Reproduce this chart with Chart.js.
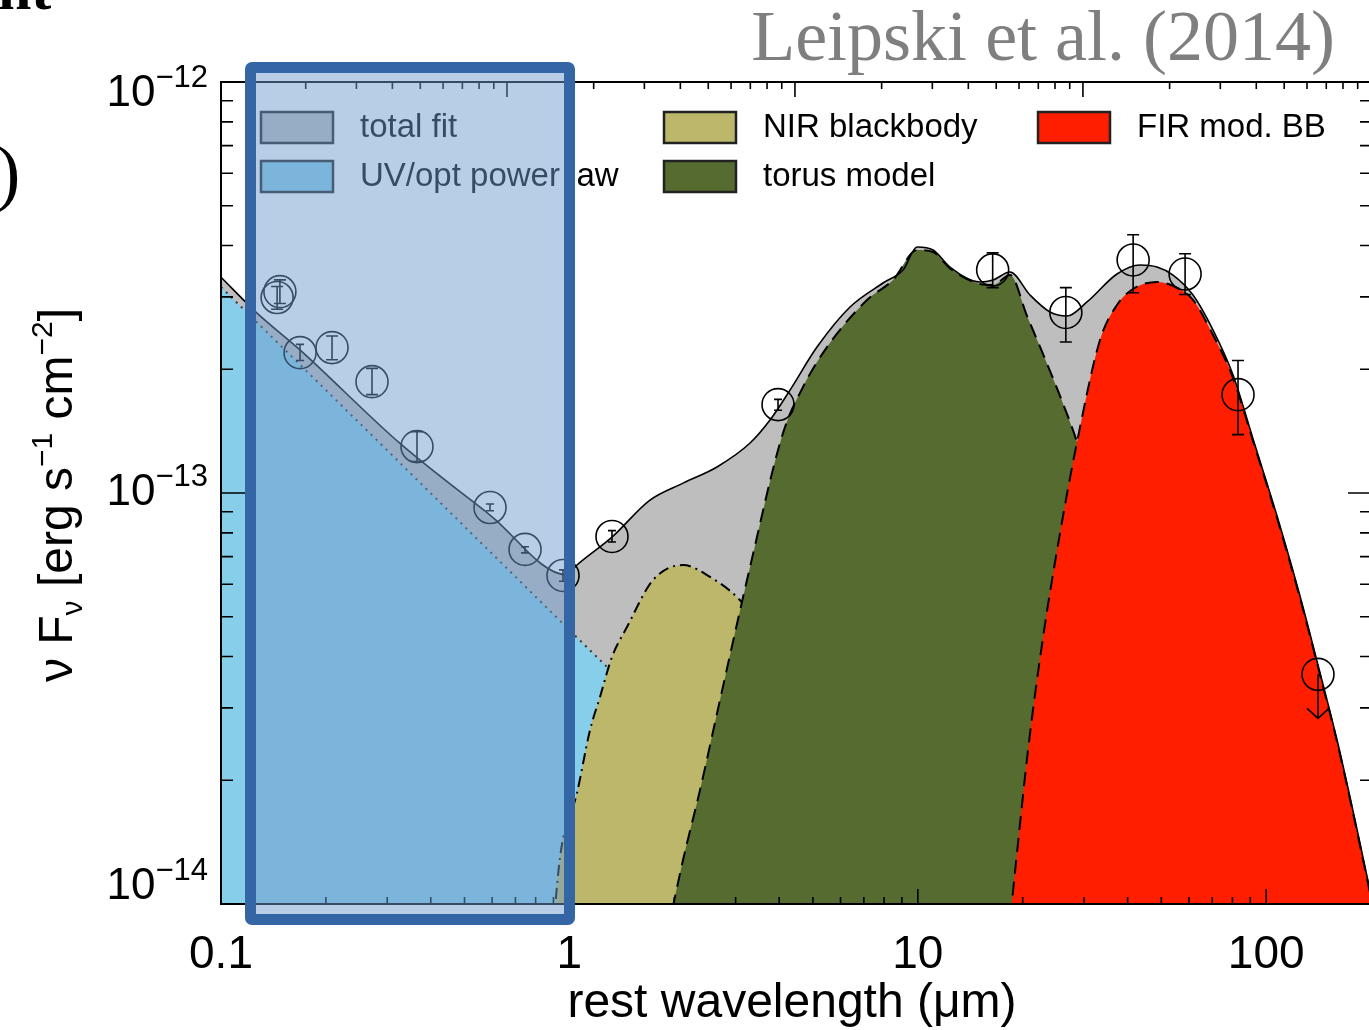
<!DOCTYPE html>
<html>
<head>
<meta charset="utf-8">
<script src="https://cdn.jsdelivr.net/npm/chart.js@4.4.1/dist/chart.umd.min.js"></script>
<style>
  html, body { margin: 0; padding: 0; background: #fff; overflow: hidden; }
  #wrap { position: absolute; left: 0; top: 0; width: 1400px; height: 1030px; }
  #highlight {
    position: absolute; left: 245px; top: 62px; width: 330px; height: 863px;
    box-sizing: border-box; border: 11px solid #3466a6; border-radius: 7px;
    background: rgba(110, 155, 204, 0.49);
  }
</style>
</head>
<body>
<div id="wrap"><canvas id="sed"></canvas></div>
<div id="highlight"></div>
<script>
// --- data (rest wavelength in micron, nuFnu in erg/s/cm2) ---
const totalWave = [0.1, 0.1269, 0.1685, 0.3265, 0.5917, 0.984, 1.051, 1.325, 1.703, 2.119, 2.652, 3.300, 3.765, 4.297, 5.136, 6.389, 7.947, 9.07, 9.95, 11.06, 12.37, 15.08, 16.44, 18.39, 20.99, 23.95, 26.81, 30.59, 37.30, 43.42, 48.59, 54.01, 61.65, 70.37, 80.32, 91.66, 107.4, 125.0, 142.7, 159.7, 179.8, 201.2];
const totalFlux = [3.35e-13, 2.74e-13, 2.23e-13, 1.32e-13, 8.84e-14, 6.32e-14, 6.68e-14, 7.81e-14, 9.61e-14, 1.057e-13, 1.157e-13, 1.323e-13, 1.505e-13, 1.78e-13, 2.265e-13, 2.835e-13, 3.243e-13, 3.487e-13, 3.967e-13, 3.901e-13, 3.546e-13, 3.262e-13, 3.298e-13, 3.449e-13, 3.032e-13, 2.757e-13, 2.696e-13, 2.916e-13, 3.41e-13, 3.586e-13, 3.546e-13, 3.391e-13, 3.032e-13, 2.492e-13, 1.937e-13, 1.353e-13, 8.79e-14, 5.615e-14, 3.648e-14, 2.506e-14, 1.601e-14, 1.023e-14];

const uvWave = [0.1, 0.3, 1.0, 1.3, 3.0, 5.0];
const uvFlux = [3.17e-13, 1.27e-13, 4.64e-14, 3.73e-14, 1.86e-14, 1.21e-14];

const nirWave = [0.88, 0.94, 1.051, 1.146, 1.224, 1.325, 1.463, 1.738, 2.119, 2.532, 3.027, 3.525, 4.59, 6.39, 8.89];
const nirFlux = [7e-15, 1.30e-14, 1.86e-14, 2.65e-14, 3.19e-14, 3.99e-14, 4.72e-14, 6.14e-14, 6.68e-14, 6.25e-14, 5.58e-14, 4.77e-14, 3.14e-14, 1.79e-14, 1.02e-14];

const torusWave = [1.919, 2.119, 2.371, 2.706, 3.300, 4.104, 4.683, 5.488, 7.148, 8.49, 9.95, 11.06, 12.37, 15.08, 16.44, 18.39, 20.58, 22.87, 25.6, 28.64, 33.34, 40.64, 49.56, 60.4];
const torusFlux = [8.65e-15, 1.28e-14, 1.894e-14, 3.14e-14, 6.61e-14, 1.40e-13, 1.811e-13, 2.265e-13, 2.948e-13, 3.298e-13, 3.90e-13, 3.858e-13, 3.52e-13, 3.226e-13, 3.206e-13, 3.391e-13, 2.696e-13, 2.179e-13, 1.722e-13, 1.33e-13, 8.59e-14, 4.39e-14, 2.0e-14, 8.6e-15];

const firWave = [18.16, 19.0, 20.72, 22.87, 25.6, 28.64, 33.34, 37.30, 41.47, 48.59, 54.01, 61.65, 70.37, 80.32, 91.66, 107.4, 125.0, 142.7, 159.7, 179.8, 201.2];
const firFlux = [8.2e-15, 1.19e-14, 2.37e-14, 4.44e-14, 7.99e-14, 1.33e-13, 2.357e-13, 2.866e-13, 3.136e-13, 3.262e-13, 3.19e-13, 2.95e-13, 2.423e-13, 1.905e-13, 1.338e-13, 8.69e-14, 5.55e-14, 3.61e-14, 2.48e-14, 1.583e-14, 1.01e-14];

// photometry with error bars (last one is an upper limit)
const photWave  = [0.1476, 0.1449, 0.1686, 0.2083, 0.2713, 0.3652, 0.5917, 0.7459, 0.9586, 1.325, 3.97, 16.4, 26.6, 41.5, 58.5, 83.0, 140.8];
const photFlux  = [3.09e-13, 2.99e-13, 2.195e-13, 2.258e-13, 1.866e-13, 1.297e-13, 9.22e-14, 7.29e-14, 6.30e-14, 7.84e-14, 1.641e-13, 3.49e-13, 2.75e-13, 3.69e-13, 3.41e-13, 1.735e-13, 3.62e-14];
const photErrHi = [3.30e-13, 3.18e-13, 2.30e-13, 2.41e-13, 2.01e-13, 1.41e-13, 9.4e-14, 7.4e-14, 6.5e-14, 8.1e-14, 1.69e-13, 3.84e-13, 3.16e-13, 4.25e-13, 3.82e-13, 2.10e-13, 3.62e-14];
const photErrLo = [2.89e-13, 2.80e-13, 2.10e-13, 2.11e-13, 1.735e-13, 1.193e-13, 9.05e-14, 7.15e-14, 6.1e-14, 7.6e-14, 1.59e-13, 3.16e-13, 2.33e-13, 3.07e-13, 3.04e-13, 1.387e-13, 2.83e-14];
const photUpperLimit = [0, 0, 0, 0, 0, 0, 0, 0, 0, 0, 0, 0, 0, 0, 0, 0, 1];

// axes
const xMajor = [0.1, 1, 10, 100];
const xMajorLabels = ['0.1', '1', '10', '100'];
const topMajor = [1, 10, 100, 1000];
const yMajor = [1e-12, 1e-13, 1e-14];
const yMajorExp = ['\u221212', '\u221213', '\u221214'];

const legendLabels = ['total fit', 'UV/opt power law', 'NIR blackbody', 'torus model', 'FIR mod. BB'];
const legendColors = ['#bebebe', '#87ceeb', '#bdb76b', '#556b2f', '#ff1e00'];

const SANS = '"Liberation Sans", Arial, Helvetica, sans-serif';
const SERIF = '"Liberation Serif", "Times New Roman", serif';

const pts = (xs, ys) => xs.map((x, i) => ({ x: x, y: ys[i] }));

function minorTicks(min, max) {
    const out = [];
    for (let e = Math.floor(Math.log10(min)); e <= Math.ceil(Math.log10(max)); e++) {
        for (let k = 2; k <= 9; k++) {
            const v = k * Math.pow(10, e);
            if (v > min * 1.0001 && v < max * 0.9999) out.push(v);
        }
    }
    return out;
}

function richWidth(ctx, parts) {
    let w = 0;
    parts.forEach(p => { ctx.font = p.size + 'px ' + SANS; w += ctx.measureText(p.t).width; });
    return w;
}
function drawRich(ctx, parts, x, y) {
    let cx = x;
    parts.forEach(p => {
        ctx.font = p.size + 'px ' + SANS;
        ctx.fillText(p.t, cx, y + (p.dy || 0));
        cx += ctx.measureText(p.t).width;
    });
}

// error bars + upper limit arrows
const errorBars = {
    id: 'errorBars',
    afterDatasetsDraw(chart) {
        const ctx = chart.ctx, xs = chart.scales.x, ys = chart.scales.y;
        ctx.save();
        ctx.strokeStyle = '#000';
        ctx.lineWidth = 1.6;
        photWave.forEach((w, i) => {
            const px = xs.getPixelForValue(w);
            if (photUpperLimit[i]) {
                const y0 = ys.getPixelForValue(photFlux[i]);
                const y1 = ys.getPixelForValue(photErrLo[i]);
                ctx.beginPath();
                ctx.moveTo(px, y0); ctx.lineTo(px, y1);
                ctx.moveTo(px - 11, y1 - 10); ctx.lineTo(px, y1); ctx.lineTo(px + 11, y1 - 10);
                ctx.stroke();
                return;
            }
            const yh = ys.getPixelForValue(photErrHi[i]);
            const yl = ys.getPixelForValue(photErrLo[i]);
            const cap = (yl - yh) > 20 ? 6 : 4;
            ctx.beginPath();
            ctx.moveTo(px, yh); ctx.lineTo(px, yl);
            ctx.moveTo(px - cap, yh); ctx.lineTo(px + cap, yh);
            ctx.moveTo(px - cap, yl); ctx.lineTo(px + cap, yl);
            ctx.stroke();
        });
        ctx.restore();
    }
};

// IDL style frame: inward ticks on all four sides, labels, legend, titles
const idlFrame = {
    id: 'idlFrame',
    afterDraw(chart) {
        const ctx = chart.ctx, a = chart.chartArea;
        const xs = chart.scales.x, x2 = chart.scales.x2, ys = chart.scales.y;
        ctx.save();
        ctx.strokeStyle = '#000';
        ctx.fillStyle = '#000';

        // ticks
        ctx.lineWidth = 1.6;
        ctx.beginPath();
        const bx = (v, len) => { const p = xs.getPixelForValue(v); ctx.moveTo(p, a.bottom); ctx.lineTo(p, a.bottom - len); };
        const tx = (v, len) => { const p = x2.getPixelForValue(v); ctx.moveTo(p, a.top); ctx.lineTo(p, a.top + len); };
        const ly = (v, len) => {
            const p = ys.getPixelForValue(v);
            ctx.moveTo(a.left, p); ctx.lineTo(a.left + len, p);
            ctx.moveTo(a.right, p); ctx.lineTo(a.right - len, p);
        };
        xMajor.forEach(v => bx(v, 15));
        minorTicks(xs.min, xs.max).forEach(v => bx(v, 7));
        topMajor.forEach(v => { if (v >= x2.min && v <= x2.max) tx(v, 15); });
        minorTicks(x2.min, x2.max).forEach(v => tx(v, 7));
        yMajor.forEach(v => ly(v, 24));
        minorTicks(ys.min, ys.max).forEach(v => ly(v, 12));
        ctx.stroke();

        ctx.lineWidth = 2;
        ctx.strokeRect(a.left, a.top, a.right - a.left, a.bottom - a.top);

        // x tick labels
        ctx.font = '46px ' + SANS;
        ctx.textAlign = 'center';
        ctx.textBaseline = 'alphabetic';
        xMajor.forEach((v, i) => ctx.fillText(xMajorLabels[i], xs.getPixelForValue(v), 968));

        // y tick labels 10^n
        ctx.textAlign = 'left';
        ctx.textBaseline = 'middle';
        yMajor.forEach((v, i) => {
            const p = ys.getPixelForValue(v);
            const cy = Math.min(Math.max(p, a.top + 12), a.bottom - 17);
            const parts = [{ t: '10', size: 44 }, { t: yMajorExp[i], size: 31, dy: -16 }];
            drawRich(ctx, parts, 208 - richWidth(ctx, parts), cy);
        });

        // axis titles
        ctx.textBaseline = 'alphabetic';
        ctx.textAlign = 'center';
        ctx.font = '48px ' + SANS;
        ctx.fillText('rest wavelength (\u03bcm)', 792, 1017);

        const yTitle = [
            { t: '\u03bd F', size: 48 }, { t: '\u03bd', size: 30, dy: 10 },
            { t: ' [erg s', size: 48 }, { t: '\u22121', size: 30, dy: -20 },
            { t: ' cm', size: 48 }, { t: '\u22122', size: 30, dy: -20 },
            { t: ']', size: 48 }
        ];
        ctx.save();
        ctx.translate(72, 495);
        ctx.rotate(-Math.PI / 2);
        ctx.textAlign = 'left';
        drawRich(ctx, yTitle, -richWidth(ctx, yTitle) / 2, 0);
        ctx.restore();

        // legend (two rows, three columns)
        const cols = [261, 664, 1038], rows = [112, 161];
        ctx.textAlign = 'left';
        ctx.font = '33px ' + SANS;
        legendLabels.forEach((lab, i) => {
            const bxl = cols[Math.floor(i / 2)], byt = rows[i % 2];
            ctx.fillStyle = legendColors[i];
            ctx.fillRect(bxl, byt, 72, 31);
            ctx.strokeStyle = '#222';
            ctx.lineWidth = 2.5;
            ctx.strokeRect(bxl, byt, 72, 31);
            ctx.fillStyle = '#000';
            ctx.fillText(lab, bxl + 99, byt + 25);
        });

        // reference tag and slide fragments
        ctx.fillStyle = '#7f7f7f';
        ctx.textAlign = 'right';
        ctx.font = '72px ' + SERIF;
        ctx.fillText('Leipski et al. (2014)', 1335, 60);
        ctx.fillStyle = '#000';
        ctx.textAlign = 'left';
        ctx.font = '73px ' + SERIF;
        ctx.fillText(')', -4, 197);
        ctx.font = 'bold 60px ' + SERIF;
        ctx.fillText('nt', -2, 9);
        ctx.restore();
    }
};

const lineBase = { pointRadius: 0, fill: 'start', borderColor: '#000', borderWidth: 2, cubicInterpolationMode: 'monotone' };

new Chart(document.getElementById('sed'), {
    type: 'line',
    data: {
        datasets: [
            { label: 'photometry', data: pts(photWave, photFlux), showLine: false, pointRadius: 16,
              pointBorderWidth: 1.6, pointBorderColor: '#000', pointBackgroundColor: 'rgba(0,0,0,0)', order: 0 },
            { label: 'total fit line', data: pts(totalWave, totalFlux), pointRadius: 0, fill: false,
              borderColor: '#000', borderWidth: 1.6, cubicInterpolationMode: 'monotone', order: 1 },
            { ...lineBase, label: 'FIR mod. BB', data: pts(firWave, firFlux), backgroundColor: legendColors[4], borderDash: [14, 8], order: 2 },
            { ...lineBase, label: 'torus model', data: pts(torusWave, torusFlux), backgroundColor: legendColors[3], borderDash: [14, 8], order: 3 },
            { ...lineBase, label: 'NIR blackbody', data: pts(nirWave, nirFlux), backgroundColor: legendColors[2], borderDash: [11, 5, 2, 5], order: 4 },
            { ...lineBase, label: 'UV/opt power law', data: pts(uvWave, uvFlux), backgroundColor: legendColors[1], borderDash: [2, 5],
              borderColor: '#333', tension: 0, cubicInterpolationMode: 'default', order: 5 },
            { ...lineBase, label: 'total fit', data: pts(totalWave, totalFlux), backgroundColor: legendColors[0], borderWidth: 0,
              borderColor: 'rgba(0,0,0,0)', order: 6 }
        ]
    },
    options: {
        responsive: true,
        maintainAspectRatio: false,
        animation: false,
        layout: { padding: { left: 221, top: 82, right: 28, bottom: 126 } },
        plugins: { legend: { display: false }, tooltip: { enabled: false } },
        scales: {
            x: { type: 'logarithmic', min: 0.1, max: 201.2, display: false },
            x2: { type: 'logarithmic', axis: 'x', position: 'top', min: 0.1016, max: 1009, display: false },
            y: { type: 'logarithmic', min: 1e-14, max: 1e-12, display: false }
        }
    },
    plugins: [errorBars, idlFrame]
});
</script>
</body>
</html>
